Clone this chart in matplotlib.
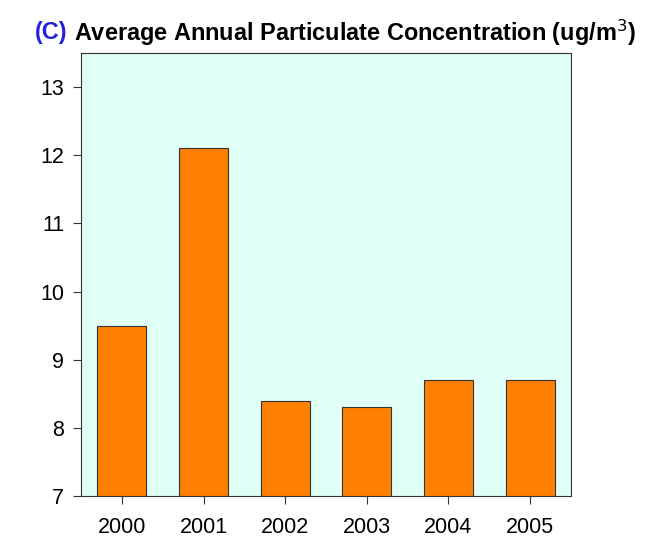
import matplotlib
matplotlib.use("Agg")
import matplotlib.pyplot as plt

years = ["2000", "2001", "2002", "2003", "2004", "2005"]
concentration = [9.5, 12.1, 8.4, 8.3, 8.7, 8.7]
yticks = [7, 8, 9, 10, 11, 12, 13]

fig = plt.figure(figsize=(6.54, 5.43), dpi=100)
ax = fig.add_axes([81 / 654, 1 - 496 / 543, 490 / 654, 443 / 543])
ax.set_facecolor("#E0FFF6")

ax.bar(range(len(years)), concentration, width=0.6, bottom=0,
       color="#FF8000", edgecolor="#333333", linewidth=0.8)
ax.set_xlim(-0.5, len(years) - 0.5)
ax.set_ylim(7, 13.5)
ax.set_xticks(range(len(years)))
ax.set_xticklabels(years, fontsize=15.5, family="Liberation Sans")
ax.set_yticks(yticks)
ax.set_yticklabels([str(v) for v in yticks], fontsize=15.5, family="Liberation Sans")
ax.tick_params(axis="both", direction="out", length=6, width=0.8, color="#333333")
ax.tick_params(axis="x", pad=9)
ax.tick_params(axis="y", pad=6)
for s in ax.spines.values():
    s.set_color("#333333")
    s.set_linewidth(0.8)

# title: blue "(C)" followed by black text, shrunk to fit the reference width
fam = ["Liberation Sans Narrow", "Liberation Sans", "DejaVu Sans"]
ty = 1 - 33 / 543
t1 = fig.text(35 / 654, ty, "(C)", color="#2222DD", va="center",
              fontsize=19, fontweight="bold", family=fam)
t2 = fig.text(0, ty, "Average Annual Particulate Concentration (ug/m$^3$)",
              color="black", va="center", fontsize=19, fontweight="bold", family=fam)
fig.canvas.draw()
r = fig.canvas.get_renderer()
w = t2.get_window_extent(r).width
fs = 19 * 560 / w
t2.set_fontsize(fs)
t1.set_fontsize(fs)
fig.canvas.draw()
bb = t1.get_window_extent(r)
t2.set_x((bb.x1 + 6) / fig.bbox.width)

fig.savefig("out.png", dpi=100)
